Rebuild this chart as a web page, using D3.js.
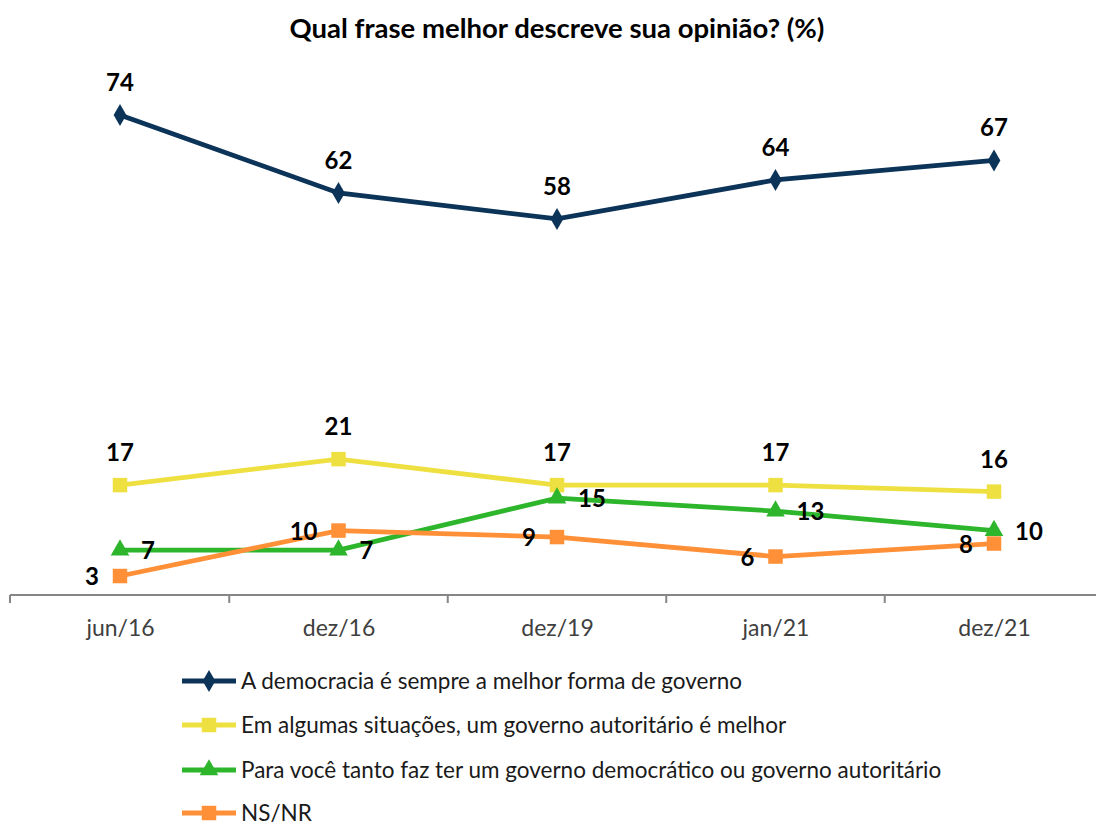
<!DOCTYPE html>
<html><head><meta charset="utf-8">
<script src="https://cdn.jsdelivr.net/npm/d3@7"></script>
<style>body{margin:0;background:#fff}svg{display:block}</style>
</head><body>
<script>
const categories = ["jun/16","dez/16","dez/19","jan/21","dez/21"];
const seriesNames = [
  "A democracia é sempre a melhor forma de governo",
  "Em algumas situações, um governo autoritário é melhor",
  "Para você tanto faz ter um governo democrático ou governo autoritário",
  "NS/NR"
];
const democracia = [74,62,58,64,67];
const autoritario = [17,21,17,17,16];
const tantoFaz = [7,7,15,13,10];
const nsnr = [3,10,9,6,8];
const title = "Qual frase melhor descreve sua opinião? (%)";

const W=1096,H=826;
const font="Lato, 'Open Sans', sans-serif";
const svg=d3.select("body").append("svg").attr("width",W).attr("height",H);
const x=d3.scalePoint().domain(categories).range([120,994]);
const y=d3.scaleLinear().domain([0,74]).range([595.5,115]);

svg.append("text").attr("x",557).attr("y",38).attr("text-anchor","middle")
  .attr("font-family",font).attr("font-weight","bold").attr("font-size",27.5).attr("fill","#000").text(title);

// axis
const ax=d3.axisBottom(x).tickSize(0);
const g=svg.append("g").attr("transform","translate(0,595)").call(ax);
g.select(".domain").attr("d",`M10,0H1096`).attr("stroke","#868686").attr("stroke-width",2);
g.selectAll("text").attr("font-family",font).attr("font-size",23).attr("fill","#404040").attr("dy",null).attr("y",41);
const bounds=[10].concat(categories.slice(0,-1).map((c,i)=>(x(c)+x(categories[i+1]))/2));
g.selectAll("line.b").data(bounds).enter().append("line").attr("class","b")
  .attr("x1",d=>d).attr("x2",d=>d).attr("y1",0).attr("y2",8).attr("stroke","#868686").attr("stroke-width",2);

const series=[
  {name:seriesNames[0],vals:democracia,color:"#0c3358",sym:d3.symbolDiamond,size:140,label:"above"},
  {name:seriesNames[1],vals:autoritario,color:"#efe042",sym:d3.symbolSquare,size:210,label:"above"},
  {name:seriesNames[2],vals:tantoFaz,color:"#2db52b",sym:d3.symbolTriangle,size:150,label:"right"},
  {name:seriesNames[3],vals:nsnr,color:"#ff9038",sym:d3.symbolSquare,size:210,label:"left"}
];
const line=d3.line().x((d,i)=>x(categories[i])).y(d=>y(d));
series.forEach(s=>{
  svg.append("path").datum(s.vals).attr("d",line).attr("fill","none").attr("stroke",s.color).attr("stroke-width",4.8);
  svg.selectAll(null).data(s.vals).enter().append("path")
    .attr("d",d3.symbol().type(s.sym).size(s.size))
    .attr("transform",(d,i)=>`translate(${x(categories[i])},${y(d)})`)
    .attr("fill",s.color);
});
series.forEach(s=>{
  svg.selectAll(null).data(s.vals).enter().append("text")
    .attr("font-family",font).attr("font-weight","bold").attr("font-size",24).attr("fill","#000")
    .attr("x",(d,i)=>{const cx=x(categories[i]);return s.label==="above"?cx:s.label==="right"?cx+21:cx-21;})
    .attr("y",d=>s.label==="above"?y(d)-24:y(d)+9)
    .attr("text-anchor",s.label==="above"?"middle":s.label==="right"?"start":"end")
    .text(d=>d);
});

// legend
const ly=[681,725,770,813];
series.forEach((s,i)=>{
  const lg=svg.append("g").attr("transform",`translate(0,${ly[i]})`);
  lg.append("line").attr("x1",182).attr("x2",236).attr("y1",0).attr("y2",0).attr("stroke",s.color).attr("stroke-width",4.8);
  lg.append("path").attr("d",d3.symbol().type(s.sym).size(s.size)).attr("transform","translate(209,0)").attr("fill",s.color);
  lg.append("text").attr("x",241).attr("y",8).attr("font-family",font).attr("font-size",22.5).attr("fill","#1a1a1a").text(s.name);
});
</script>
</body></html>
